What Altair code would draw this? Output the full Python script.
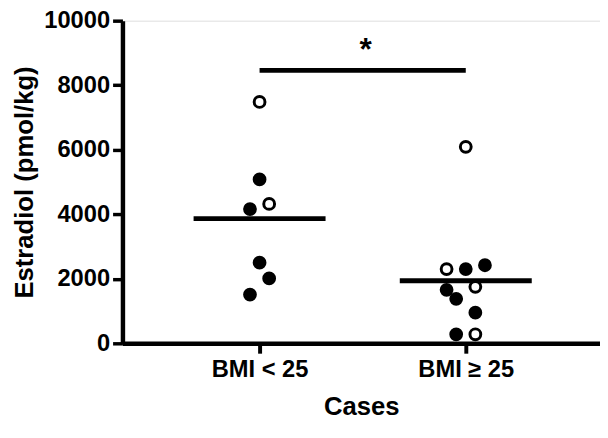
import altair as alt
import pandas as pd

# ---- data ----
groups = ["BMI < 25", "BMI ≥ 25"]

lean_values = [7480, 5080, 4320, 4160, 2500, 2010, 1510]
lean_filled = [False, True, False, True, True, True, True]
lean_slot = [0, 0, 1, -1, 0, 1, -1]

over_values = [6090, 2300, 2300, 2420, 1660, 1750, 1380, 950, 280, 280]
over_filled = [False, False, True, True, True, False, True, True, True, False]
over_slot = [0, -2, 0, 2, -2, 1, -1, 1, -1, 1]

sig_level = 8460
sig_label = "*"

y_ticks = [0, 2000, 4000, 6000, 8000, 10000]

# ---- build tables ----
SLOT = 0.0465
rows = []
for gi, (vals, fills, slots) in enumerate(
    [(lean_values, lean_filled, lean_slot), (over_values, over_filled, over_slot)], start=1
):
    for v, f, s in zip(vals, fills, slots):
        rows.append({"g": gi, "xpos": gi + s * SLOT, "value": v, "filled": "yes" if f else "no"})
df = pd.DataFrame(rows)

means = df.groupby("g", as_index=False)["value"].mean()
means["x1"] = means["g"] - 0.32
means["x2"] = means["g"] + 0.32

sig = pd.DataFrame({"x1": [1.0], "x2": [2.0], "y": [sig_level], "xm": [1.5], "t": [sig_label]})

FONT = "Liberation Sans"

xscale = alt.Scale(domain=[0.335, 2.651], nice=False, zero=False)
yscale = alt.Scale(domain=[0, 10000], nice=False)

label_expr = "datum.value == 1 ? '%s' : (datum.value == 2 ? '%s' : '')" % (groups[0], groups[1])

xaxis = alt.Axis(
    values=[1, 2], labelExpr=label_expr, title="Cases", grid=False,
    labelFont=FONT, labelFontWeight="bold", labelFontSize=24, labelColor="black",
    titleFont=FONT, titleFontWeight="bold", titleFontSize=26, titleColor="black",
    domainColor="black", domainWidth=4.5, tickColor="black", tickWidth=4, tickSize=10,
    labelPadding=5, titlePadding=12,
)
yaxis = alt.Axis(
    values=y_ticks, title="Estradiol (pmol/kg)", grid=False, format="d",
    labelFont=FONT, labelFontWeight="bold", labelFontSize=24, labelColor="black",
    titleFont=FONT, titleFontWeight="bold", titleFontSize=26, titleColor="black",
    domainColor="black", domainWidth=4.5, tickColor="black", tickWidth=3.5, tickSize=10,
    labelPadding=3, titlePadding=6,
)

points = alt.Chart(df).mark_point(shape="circle", filled=False, size=120, strokeWidth=3, stroke="black", opacity=1).encode(
    x=alt.X("xpos:Q", scale=xscale, axis=xaxis),
    y=alt.Y("value:Q", scale=yscale, axis=yaxis),
    fill=alt.Fill("filled:N", scale=alt.Scale(domain=["yes", "no"], range=["black", "white"]), legend=None),
)

mean_rules = alt.Chart(means).mark_rule(color="black", strokeWidth=5).encode(
    x=alt.X("x1:Q", scale=xscale), x2="x2:Q", y=alt.Y("value:Q", scale=yscale)
)

sig_rule = alt.Chart(sig).mark_rule(color="black", strokeWidth=5).encode(
    x=alt.X("x1:Q", scale=xscale), x2="x2:Q", y=alt.Y("y:Q", scale=yscale)
)

sig_text = alt.Chart(sig).mark_text(
    font=FONT, fontWeight="bold", fontSize=32, color="black", baseline="bottom", dy=-4, dx=3
).encode(x=alt.X("xm:Q", scale=xscale), y=alt.Y("y:Q", scale=yscale), text="t:N")

chart = alt.layer(mean_rules, sig_rule, sig_text, points).properties(
    width=484, height=327,
    autosize=alt.AutoSizeParams(type="none"),
    padding={"left": 116, "top": 10, "right": 0, "bottom": 85},
).configure_view(stroke=None).configure(background="white")

chart.save("out.html", embed_options={"renderer": "svg", "actions": False})
